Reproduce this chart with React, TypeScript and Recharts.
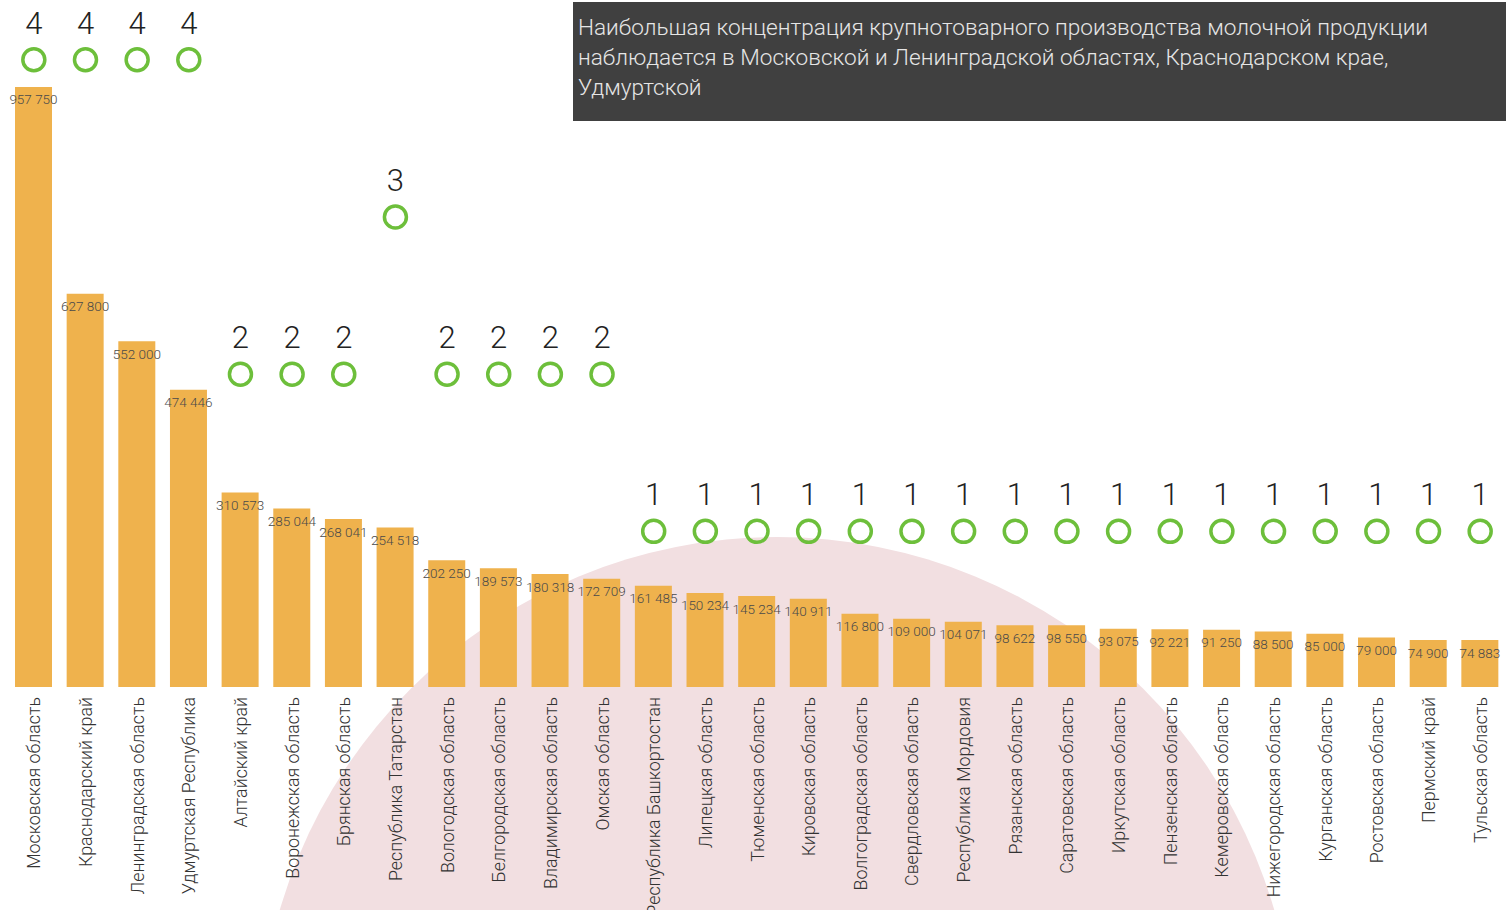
import { ComposedChart, Bar, Line, XAxis, YAxis, LabelList } from "recharts";

const regions = [
  "Московская область",
  "Краснодарский край",
  "Ленинградская область",
  "Удмуртская Республика",
  "Алтайский край",
  "Воронежская область",
  "Брянская область",
  "Республика Татарстан",
  "Вологодская область",
  "Белгородская область",
  "Владимирская область",
  "Омская область",
  "Республика Башкортостан",
  "Липецкая область",
  "Тюменская область",
  "Кировская область",
  "Волгоградская область",
  "Свердловская область",
  "Республика Мордовия",
  "Рязанская область",
  "Саратовская область",
  "Иркутская область",
  "Пензенская область",
  "Кемеровская область",
  "Нижегородская область",
  "Курганская область",
  "Ростовская область",
  "Пермский край",
  "Тульская область",
];

const volumes = [
  957750, 627800, 552000, 474446, 310573, 285044, 268041, 254518, 202250, 189573,
  180318, 172709, 161485, 150234, 145234, 140911, 116800, 109000, 104071, 98622,
  98550, 93075, 92221, 91250, 88500, 85000, 79000, 74900, 74883,
];

const ranks = [4, 4, 4, 4, 2, 2, 2, 3, 2, 2, 2, 2, 1, 1, 1, 1, 1, 1, 1, 1, 1, 1, 1, 1, 1, 1, 1, 1, 1];

const headline = [
  "Наибольшая концентрация крупнотоварного производства молочной продукции",
  "наблюдается в Московской и Ленинградской областях, Краснодарском крае,",
  "Удмуртской",
];

const BAR_COLOR = "#efb24d";
const RING_COLOR = "#6dbf3b";
const PINK = "#f2dfe1";
const LIGHT = "Roboto, 'Liberation Sans', sans-serif";

const data = regions.map((name, i) => ({ name, volume: volumes[i], rank: ranks[i] }));

const fmt = (v: number) => String(v).replace(/\B(?=(\d{3})+(?!\d))/g, " ");

function RegionTick({ x, y, payload }: any) {
  return (
    <text
      transform={`translate(${x},${y + 2}) rotate(-90)`}
      textAnchor="end"
      dominantBaseline="central"
      fontFamily={LIGHT}
      fontWeight={300}
      fontSize={17.8}
      fill="#333"
    >
      {payload.value}
    </text>
  );
}

function RankDot({ cx, cy, payload, index }: any) {
  return (
    <g key={`rank-${index}`}>
      <circle cx={cx} cy={cy} r={11} fill="none" stroke={RING_COLOR} strokeWidth={3.5} />
      <text
        x={cx}
        y={cy - 26}
        textAnchor="middle"
        fontFamily={LIGHT}
        fontWeight={300}
        fontSize={31}
        fill="#222"
      >
        {payload.rank}
      </text>
    </g>
  );
}

function ValueLabel({ x, y, width, value }: any) {
  return (
    <text
      x={x + width / 2}
      y={y + 12.5}
      textAnchor="middle"
      dominantBaseline="central"
      fontFamily={LIGHT}
      fontWeight={300}
      fontSize={13.5}
      fill="#4a4a4a"
    >
      {fmt(value)}
    </text>
  );
}

export default function App() {
  return (
    <div
      style={{
        position: "absolute",
        top: 0,
        left: 0,
        width: 1510,
        height: 910,
        overflow: "hidden",
        background: "#fff",
      }}
    >
      {/* pink backdrop disc */}
      <div
        style={{
          position: "absolute",
          left: 259,
          top: 537,
          width: 1036,
          height: 1036,
          borderRadius: "50%",
          background: PINK,
        }}
      />

      <div style={{ position: "absolute", top: 0, left: 0 }}>
        <ComposedChart width={1510} height={910} data={data} margin={{ top: 0, right: 4, bottom: 0, left: 8 }}>
          <XAxis
            dataKey="name"
            interval={0}
            height={223}
            axisLine={false}
            tickLine={false}
            tick={<RegionTick />}
          />
          <YAxis yAxisId="vol" hide domain={[0, 1096600]} allowDataOverflow />
          <YAxis yAxisId="rank" hide domain={[0.01, 4.38]} allowDataOverflow />
          <Bar yAxisId="vol" dataKey="volume" fill={BAR_COLOR} barSize={37} isAnimationActive={false}>
            <LabelList dataKey="volume" content={<ValueLabel />} />
          </Bar>
          <Line
            yAxisId="rank"
            dataKey="rank"
            stroke="none"
            dot={RankDot}
            activeDot={false}
            legendType="none"
            isAnimationActive={false}
          />
        </ComposedChart>
      </div>

      <div
        style={{
          position: "absolute",
          left: 573,
          top: 2,
          width: 933,
          height: 119,
          background: "#404040",
          color: "#e6e6e6",
          fontFamily: LIGHT,
          fontWeight: 300,
          fontSize: 22.6,
          lineHeight: "30px",
          padding: "11px 0 0 5px",
          boxSizing: "border-box",
          whiteSpace: "nowrap",
        }}
      >
        {headline.map((line) => (
          <div key={line}>{line}</div>
        ))}
      </div>
    </div>
  );
}
